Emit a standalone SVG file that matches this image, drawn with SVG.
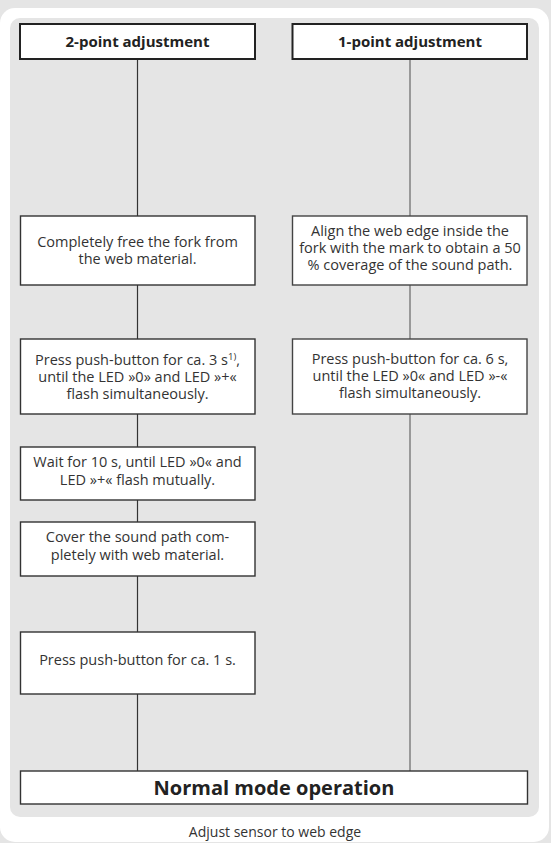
<svg xmlns="http://www.w3.org/2000/svg" width="551" height="843" viewBox="0 0 551 843">
<style>
.bg{fill:#e5e5e5}
.panel{fill:#ffffff}
.inner{fill:#e5e5e5}
.hdr{fill:#ffffff;stroke:#222222;stroke-width:2}
.box{fill:#ffffff;stroke:#333333;stroke-width:1.4}
.box2{fill:#ffffff;stroke:#444444;stroke-width:1.4}
.t{font-family:"Open Sans","Liberation Sans",sans-serif;font-size:14.5px;fill:#333333;text-anchor:middle}
.hb{font-family:"Open Sans","Liberation Sans",sans-serif;font-size:15px;font-weight:bold;fill:#222222;text-anchor:middle}
.nb{font-family:"Open Sans","Liberation Sans",sans-serif;font-size:20px;font-weight:bold;fill:#222222;text-anchor:middle}
.cap{font-family:"Open Sans","Liberation Sans",sans-serif;font-size:14px;fill:#333333;text-anchor:middle}
.ln{stroke:#333333;stroke-width:1.2;fill:none}
.ln2{stroke:#666666;stroke-width:1.2;fill:none}
</style>
<rect class="bg" x="0" y="0" width="551" height="843"/>
<rect class="panel" x="0" y="8" width="549" height="834" rx="15"/>
<rect class="inner" x="10" y="18" width="529" height="799" rx="10"/>
<g id="connectors">
<line class="ln" x1="137.5" y1="59" x2="137.5" y2="216"/>
<line class="ln" x1="137.5" y1="285" x2="137.5" y2="339"/>
<line class="ln" x1="137.5" y1="414" x2="137.5" y2="447"/>
<line class="ln" x1="137.5" y1="500" x2="137.5" y2="522"/>
<line class="ln" x1="137.5" y1="576" x2="137.5" y2="632"/>
<line class="ln" x1="137.5" y1="694" x2="137.5" y2="771"/>
<line class="ln2" x1="410" y1="59" x2="410" y2="216"/>
<line class="ln2" x1="410" y1="285" x2="410" y2="339"/>
<line class="ln2" x1="410" y1="414" x2="410" y2="771"/>
</g>
<g id="hdr2">
<rect class="hdr" x="20" y="24" width="235" height="35"/>
<text class="hb" x="137.5" y="47">2-point adjustment</text>
</g>
<g id="hdr1">
<rect class="hdr" x="292.5" y="24" width="234.5" height="35"/>
<text class="hb" x="410" y="47">1-point adjustment</text>
</g>
<g id="free">
<rect class="box" x="20.5" y="216" width="234.5" height="69"/>
<text class="t" x="137.5" y="246.5">Completely free the fork from</text>
<text class="t" x="137.5" y="263.5">the web material.</text>
</g>
<g id="align">
<rect class="box2" x="292.5" y="216" width="234.5" height="69"/>
<text class="t" x="410" y="236">Align the web edge inside the</text>
<text class="t" x="410" y="253">fork with the mark to obtain a 50</text>
<text class="t" x="410" y="270">% coverage of the sound path.</text>
</g>
<g id="press3">
<rect class="box" x="20.5" y="339" width="234.5" height="75"/>
<text class="t" x="137.5" y="365">Press push-button for ca. 3 s<tspan font-size="9.5" dy="-5.5">1)</tspan><tspan dy="5.5">,</tspan></text>
<text class="t" x="137.5" y="382">until the LED »0» and LED »+«</text>
<text class="t" x="137.5" y="399">flash simultaneously.</text>
</g>
<g id="press6">
<rect class="box2" x="292.5" y="339" width="234.5" height="75"/>
<text class="t" x="410" y="364">Press push-button for ca. 6 s,</text>
<text class="t" x="410" y="381">until the LED »0« and LED »-«</text>
<text class="t" x="410" y="398">flash simultaneously.</text>
</g>
<g id="wait">
<rect class="box" x="20.5" y="447" width="234.5" height="53"/>
<text class="t" x="137.5" y="467">Wait for 10 s, until LED »0« and</text>
<text class="t" x="137.5" y="485">LED »+« flash mutually.</text>
</g>
<g id="cover">
<rect class="box" x="20.5" y="522" width="234.5" height="54"/>
<text class="t" x="137.5" y="542">Cover the sound path com-</text>
<text class="t" x="137.5" y="560">pletely with web material.</text>
</g>
<g id="press1">
<rect class="box" x="20.5" y="632" width="234.5" height="62"/>
<text class="t" x="137.5" y="665">Press push-button for ca. 1 s.</text>
</g>
<g id="normal">
<rect class="box" x="20.5" y="771" width="507" height="33"/>
<text class="nb" x="274" y="794.5">Normal mode operation</text>
</g>
<text class="cap" x="275" y="837">Adjust sensor to web edge</text>
</svg>
